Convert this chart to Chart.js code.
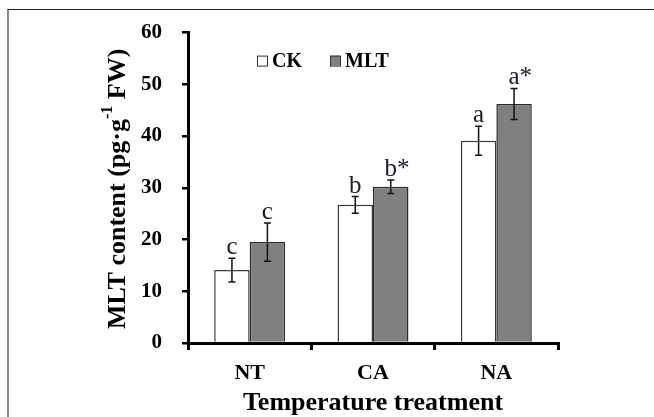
<!DOCTYPE html>
<html lang="en">
<head>
    <meta charset="UTF-8">
    <title>MLT content</title>
    <script src="https://cdn.jsdelivr.net/npm/chart.js@4.4.1/dist/chart.umd.min.js"></script>
    <style>
        html, body { margin: 0; padding: 0; background: #fff; }
        #wrap { position: relative; width: 654px; height: 417px; overflow: hidden; }
        #frame {
            position: absolute; left: 7px; top: 9px; width: 700px; height: 500px;
            border-top: 1.5px solid #222; border-left: 2px solid #888;
            pointer-events: none;
        }
    </style>
</head>
<body>
<div id="wrap">
    <canvas id="myChart" width="654" height="417"></canvas>
    <div id="frame"></div>
</div>

<script>
    // values
    const categories = ['NT', 'CA', 'NA'];
    const ckValues = [14.1, 26.7, 39.1];
    const ckErrors = [2.3, 1.6, 2.8];
    const mltValues = [19.5, 30.2, 46.2];
    const mltErrors = [3.7, 1.3, 3.0];
    const ckLetters = ['c', 'b', 'a'];
    const mltLetters = ['c', 'b*', 'a*'];
    const yTicks = [0, 10, 20, 30, 40, 50, 60];

    const serif = '"Liberation Serif", "Times New Roman", serif';

    // error bars + significance letters over each bar
    const errorBars = {
        id: 'errorBars',
        afterDatasetsDraw(chart) {
            const ctx = chart.ctx;
            const y = chart.scales.y;
            const errs = [ckErrors, mltErrors];
            const letters = [ckLetters, mltLetters];
            ctx.save();
            chart.data.datasets.forEach((ds, di) => {
                chart.getDatasetMeta(di).data.forEach((bar, i) => {
                    const v = ds.data[i], e = errs[di][i];
                    const yHi = y.getPixelForValue(v + e);
                    const yLo = y.getPixelForValue(v - e);
                    ctx.strokeStyle = '#111';
                    ctx.lineWidth = 1.5;
                    ctx.beginPath();
                    ctx.moveTo(bar.x, yHi); ctx.lineTo(bar.x, yLo);
                    ctx.moveTo(bar.x - 3.5, yHi); ctx.lineTo(bar.x + 3.5, yHi);
                    ctx.moveTo(bar.x - 3.5, yLo); ctx.lineTo(bar.x + 3.5, yLo);
                    ctx.stroke();

                    // letter centred on the bar, asterisk hanging to the right
                    const txt = letters[di][i];
                    ctx.font = '25px ' + serif;
                    ctx.fillStyle = '#1a1a2a';
                    ctx.textBaseline = 'alphabetic';
                    ctx.textAlign = 'center';
                    ctx.fillText(txt[0], bar.x, yHi - 4);
                    if (txt.length > 1) {
                        ctx.textAlign = 'left';
                        ctx.fillText(txt.slice(1), bar.x + ctx.measureText(txt[0]).width / 2, yHi - 4);
                    }
                });
            });
            ctx.restore();
        }
    };

    // legend box at the top of the plot + rotated y title with superscript
    const extras = {
        id: 'extras',
        afterDraw(chart) {
            const ctx = chart.ctx;
            const area = chart.chartArea;
            ctx.save();

            // legend
            let lx = area.left + 69, ly = area.top + 28;
            ctx.font = 'bold 20px ' + serif;
            ctx.textBaseline = 'middle';
            ctx.textAlign = 'left';
            chart.data.datasets.forEach((ds) => {
                ctx.fillStyle = ds.backgroundColor;
                ctx.fillRect(lx, ly - 5, 10, 10);
                ctx.strokeStyle = '#333';
                ctx.lineWidth = 1;
                ctx.strokeRect(lx + 0.5, ly - 4.5, 10, 10);
                ctx.fillStyle = '#000';
                ctx.fillText(ds.label, lx + 15, ly + 1);
                lx += 15 + ctx.measureText(ds.label).width + 28;
            });

            // y axis title
            const parts = [
                { t: 'MLT content (pg\u00b7g', f: 'bold 26px ' + serif, dy: 0 },
                { t: '-1', f: 'bold 16px ' + serif, dy: -10 },
                { t: ' FW)', f: 'bold 26px ' + serif, dy: 0 }
            ];
            let total = 0;
            parts.forEach(p => { ctx.font = p.f; p.w = ctx.measureText(p.t).width; total += p.w; });
            ctx.translate(118, (area.top + area.bottom) / 2 + 1);
            ctx.rotate(-Math.PI / 2);
            ctx.fillStyle = '#000';
            ctx.textBaseline = 'middle';
            let px = -total / 2;
            parts.forEach(p => {
                ctx.font = p.f;
                ctx.fillText(p.t, px, p.dy);
                px += p.w;
            });
            ctx.restore();
        }
    };

    const ctx = document.getElementById('myChart').getContext('2d');
    const myChart = new Chart(ctx, {
        type: 'bar',
        data: {
            labels: categories,
            datasets: [{
                label: 'CK',
                data: ckValues,
                backgroundColor: '#ffffff',
                borderColor: '#3a3a3a',
                borderWidth: 1.5
            }, {
                label: 'MLT',
                data: mltValues,
                backgroundColor: '#808080',
                borderColor: '#2a2a2a',
                borderWidth: 1.5
            }]
        },
        options: {
            responsive: false,
            animation: false,
            events: [],
            layout: { padding: { left: 0, right: 96, top: 32, bottom: -2 } },
            datasets: { bar: { categoryPercentage: 0.575, barPercentage: 1.0 } },
            plugins: {
                legend: { display: false },
                tooltip: { enabled: false }
            },
            scales: {
                x: {
                    grid: { display: true, drawOnChartArea: false, drawTicks: true, tickLength: 7, color: '#000', lineWidth: 3 },
                    border: { display: true, color: '#000', width: 3 },
                    ticks: { color: '#000', padding: 10, font: { family: serif, size: 22, weight: 'bold' } },
                    title: {
                        display: true,
                        text: 'Temperature treatment',
                        color: '#000',
                        padding: { top: 0, bottom: 0 },
                        font: { family: serif, size: 26, weight: 'bold' }
                    },
                    afterFit(scale) { scale.height = 76; }
                },
                y: {
                    min: 0,
                    max: 60,
                    afterBuildTicks(scale) { scale.ticks = yTicks.map(v => ({ value: v })); },
                    grid: { display: true, drawOnChartArea: false, drawTicks: true, tickLength: 6, color: '#000', lineWidth: 2.5 },
                    border: { display: true, color: '#000', width: 3 },
                    ticks: { color: '#000', padding: 20, font: { family: serif, size: 21, weight: 'bold' } },
                    afterFit(scale) { scale.width = 188; }
                }
            }
        },
        plugins: [errorBars, extras]
    });
</script>
</body>
</html>
